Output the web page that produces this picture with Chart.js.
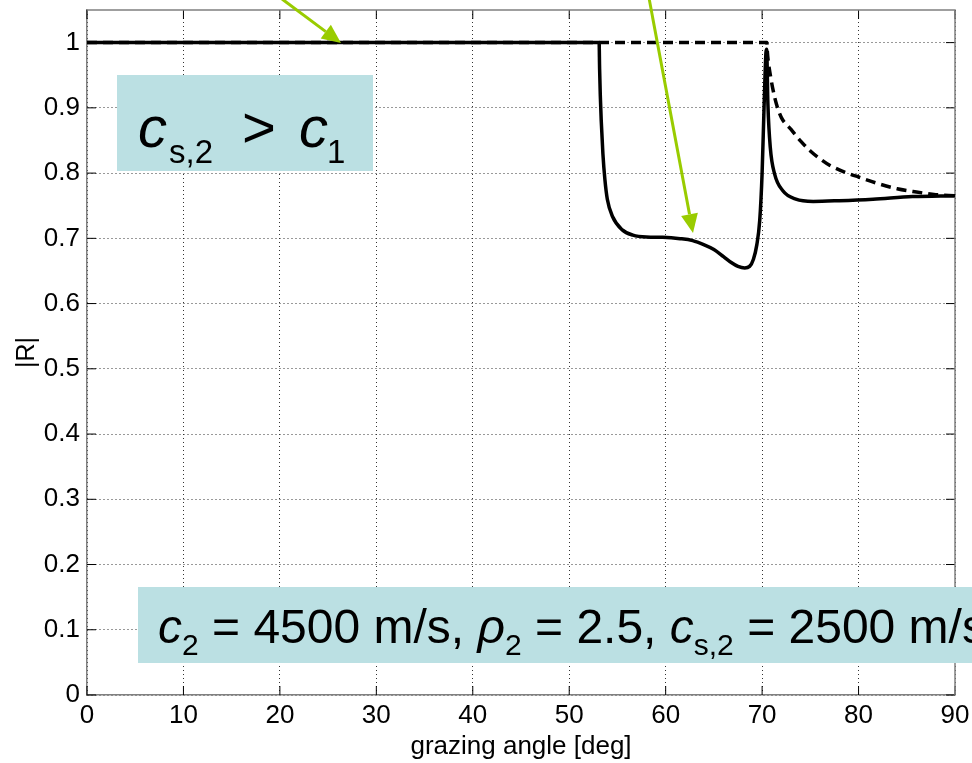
<!DOCTYPE html>
<html>
<head>
<meta charset="utf-8">
<script src="https://cdn.jsdelivr.net/npm/chart.js@4.4.0/dist/chart.umd.min.js"></script>
<style>
html,body{margin:0;padding:0;background:#fff;}
#wrap{width:972px;height:763px;position:relative;}
canvas{display:block;}
</style>
</head>
<body>
<div id="wrap"><canvas id="c" width="972" height="763" style="width:972px;height:763px"></canvas></div>
<script>
// ---- data ----
const solidX = [0, 53.1, 53.15, 53.22, 53.32, 53.49, 53.7, 53.95, 54.5, 55.5, 56.6, 58, 59.7, 61.5, 62.8, 64, 65, 66, 66.8, 67.5, 68.2, 68.7, 69.1, 69.45, 69.75, 70.0, 70.2, 70.4, 70.47, 70.6, 70.85, 71.3, 72.15, 73.5, 75.3, 78, 81.5, 85.6, 90];
const solidY = [1, 1, 0.96, 0.92, 0.88, 0.83, 0.79, 0.76, 0.733, 0.713, 0.705, 0.702, 0.7015, 0.6995, 0.6965, 0.69, 0.683, 0.672, 0.663, 0.657, 0.6547, 0.657, 0.668, 0.69, 0.727, 0.8, 0.9, 0.985, 0.99, 0.906, 0.839, 0.7985, 0.773, 0.760, 0.7566, 0.7577, 0.760, 0.764, 0.7653];
const dashedX = [0, 70.5, 70.55, 70.65, 70.8, 71.1, 71.5, 72, 73, 74, 75, 76, 77, 78, 79, 80, 82, 84, 86, 88, 90];
const dashedY = [1, 1, 0.985, 0.97, 0.955, 0.93, 0.905, 0.885, 0.867, 0.849, 0.834, 0.822, 0.812, 0.805, 0.799, 0.794, 0.784, 0.776, 0.771, 0.767, 0.765];
const xTicks = [0, 10, 20, 30, 40, 50, 60, 70, 80, 90];
const yTicks = [0, 0.1, 0.2, 0.3, 0.4, 0.5, 0.6, 0.7, 0.8, 0.9, 1];
const yTickLabels = ['0', '0.1', '0.2', '0.3', '0.4', '0.5', '0.6', '0.7', '0.8', '0.9', '1'];
const xTitle = 'grazing angle [deg]';
const yTitle = '|R|';

const FONT = '"Liberation Sans", Arial, Helvetica, sans-serif';
const GREEN = '#99cc00';
const BOXCOL = '#bbe0e3';

function pts(xs, ys) { return xs.map((x, i) => ({x: x, y: ys[i]})); }

function drawArrow(ctx, x1, y1, x2, y2) {
  const ang = Math.atan2(y2 - y1, x2 - x1);
  const L = 19, W = 8.5;
  const bx = x2 - L * Math.cos(ang), by = y2 - L * Math.sin(ang);
  ctx.save();
  ctx.strokeStyle = GREEN; ctx.fillStyle = GREEN; ctx.lineWidth = 3;
  ctx.beginPath(); ctx.moveTo(x1, y1); ctx.lineTo(bx, by); ctx.stroke();
  ctx.beginPath();
  ctx.moveTo(x2, y2);
  ctx.lineTo(bx + W * Math.sin(ang), by - W * Math.cos(ang));
  ctx.lineTo(bx - W * Math.sin(ang), by + W * Math.cos(ang));
  ctx.closePath(); ctx.fill();
  ctx.restore();
}

function runs(ctx, x, parts) {
  for (const p of parts) {
    ctx.font = p[1];
    ctx.fillText(p[0], x, p[2]);
    x += ctx.measureText(p[0]).width;
  }
}

const framePlugin = {
  id: 'frame',
  beforeDatasetsDraw(chart) {
    const {ctx, chartArea: a, scales: {x, y}} = chart;
    ctx.save();
    ctx.strokeStyle = '#000'; ctx.lineWidth = 1;
    const tl = 9;
    ctx.beginPath();
    xTicks.forEach(v => {
      const px = x.getPixelForValue(v);
      ctx.moveTo(px, a.bottom); ctx.lineTo(px, a.bottom - tl);
      ctx.moveTo(px, a.top); ctx.lineTo(px, a.top + tl);
    });
    yTicks.forEach(v => {
      const py = y.getPixelForValue(v);
      ctx.moveTo(a.left, py); ctx.lineTo(a.left + tl, py);
      ctx.moveTo(a.right, py); ctx.lineTo(a.right - tl, py);
    });
    ctx.stroke();
    ctx.strokeStyle = '#808080'; ctx.lineWidth = 1.5;
    ctx.beginPath();
    ctx.moveTo(a.left, a.top); ctx.lineTo(a.right, a.top); ctx.lineTo(a.right, a.bottom);
    ctx.stroke();
    ctx.restore();
  },
  afterDraw(chart) {
    const ctx = chart.ctx;
    ctx.save();
    ctx.fillStyle = BOXCOL;
    ctx.fillRect(117, 75, 256, 96);
    ctx.fillStyle = '#000';
    ctx.textBaseline = 'alphabetic';
    ctx.font = 'italic 58px ' + FONT; ctx.fillText('c', 138, 147);
    ctx.font = '33px ' + FONT; ctx.fillText('s,2', 169, 163);
    ctx.font = '58px ' + FONT; ctx.fillText('>', 242, 147);
    ctx.font = 'italic 58px ' + FONT; ctx.fillText('c', 299, 147);
    ctx.font = '33px ' + FONT; ctx.fillText('1', 327, 163);
    ctx.fillStyle = BOXCOL;
    ctx.fillRect(138, 587, 972 - 138, 76);
    ctx.fillStyle = '#000';
    const M = '48px ' + FONT, I = 'italic 48px ' + FONT, S = '30px ' + FONT;
    runs(ctx, 158, [
      ['c', I, 643], ['2', S, 655], [' = 4500 m/s, ', M, 643],
      ['\u03C1', I, 643], ['2', S, 655], [' = 2.5, ', M, 643],
      ['c', I, 643], ['s,2', S, 655], [' = 2500 m/s', M, 643]
    ]);
    drawArrow(ctx, 282, -1, 341, 43);
    drawArrow(ctx, 649, -2, 693, 233);
    ctx.restore();
  }
};

new Chart(document.getElementById('c'), {
  type: 'line',
  data: {
    datasets: [
      {
        label: 'solid',
        data: pts(solidX, solidY),
        borderColor: '#000', borderWidth: 3.5,
        pointRadius: 0, fill: false,
        cubicInterpolationMode: 'monotone'
      },
      {
        label: 'dashed',
        data: pts(dashedX, dashedY),
        borderColor: '#000', borderWidth: 3.5, borderDash: [10, 6],
        pointRadius: 0, fill: false,
        cubicInterpolationMode: 'monotone'
      }
    ]
  },
  options: {
    responsive: false,
    animation: false,
    devicePixelRatio: 1,
    layout: {padding: {left: 0, top: 10, right: 17, bottom: 0}},
    plugins: {legend: {display: false}, tooltip: {enabled: false}},
    scales: {
      x: {
        type: 'linear', min: 0, max: 90,
        afterBuildTicks: s => { s.ticks = xTicks.map(v => ({value: v})); },
        afterFit: s => { s.height = 68; s.paddingLeft = 0; s.paddingRight = 0; },
        ticks: {font: {size: 26, family: FONT}, color: '#000', padding: 5, maxRotation: 0, autoSkip: false,
                callback: v => String(v)},
        grid: {color: '#333', lineWidth: 1, drawTicks: false},
        border: {display: true, color: '#808080', width: 1.5, dash: [1, 3]},
        title: {display: true, text: xTitle, color: '#000', font: {size: 26, family: FONT}, padding: {top: 0, bottom: 1}}
      },
      y: {
        type: 'linear', min: 0, max: 1.05,
        afterBuildTicks: s => { s.ticks = yTicks.map(v => ({value: v})); },
        afterFit: s => { s.width = 87; s.paddingTop = 0; s.paddingBottom = 0; },
        ticks: {font: {size: 26, family: FONT}, color: '#000', padding: 7, autoSkip: false,
                callback: (v) => { const i = yTicks.findIndex(t => Math.abs(t - v) < 1e-9); return i >= 0 ? yTickLabels[i] : ''; }},
        grid: {color: '#333', lineWidth: 1, drawTicks: false},
        border: {display: true, color: '#808080', width: 1.5, dash: [1, 3]},
        title: {display: true, text: yTitle, color: '#000', font: {size: 25, family: FONT}, padding: {top: 12, bottom: 0}}
      }
    }
  },
  plugins: [framePlugin]
});
</script>
</body>
</html>
